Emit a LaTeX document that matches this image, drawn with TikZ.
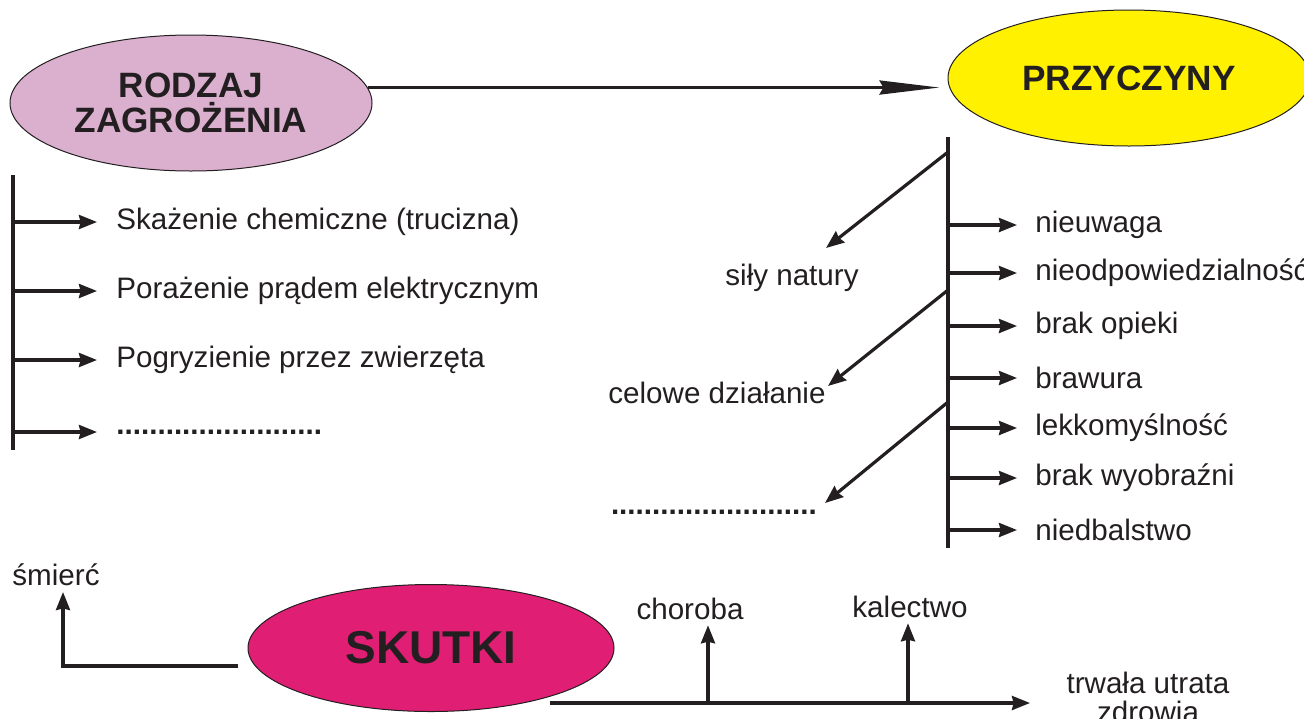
\documentclass[tikz,border=0pt]{standalone}
\usepackage{fontspec}
\setmainfont{Liberation Sans}
\usetikzlibrary{shapes.geometric, arrows.meta, positioning, calc}
\definecolor{hazardpink}{RGB}{218,176,206}
\definecolor{causeyellow}{RGB}{255,241,0}
\definecolor{effectmagenta}{RGB}{224,30,115}
\definecolor{inkblack}{RGB}{35,31,32}
\tikzstyle{arrow} = [line width=1.6pt,-{Stealth[length=9pt,width=7pt,inset=0.8pt]},inkblack]
\tikzstyle{longarrow} = [line width=1.6pt,-{Stealth[length=30pt,width=7pt,inset=2pt]},inkblack]
\tikzstyle{bar} = [line width=1.6pt,inkblack]
\tikzstyle{blob} = [ellipse, draw=inkblack, line width=0.5pt, minimum width=181pt, minimum height=68pt, inner sep=0pt, align=center, text=inkblack, font=\fontsize{17.6}{17.5}\selectfont\bfseries]
\tikzstyle{item} = [inner sep=0pt, text=inkblack, font=\fontsize{14.8}{14.5}\selectfont]
\tikzstyle{dots} = [item, font=\fontsize{14.8}{14.5}\selectfont\bfseries]

\begin{document}
\begin{tikzpicture}[x=0.5pt,y=-0.5pt]
\useasboundingbox (0,0) rectangle (1304,718);
\clip (0,0) rectangle (1304,718);

% main ellipses
\node[blob, fill=hazardpink] (rodzaj) at (191,103) {RODZAJ\\ZAGROŻENIA};
\node[blob, fill=causeyellow] (przyczyny) at (1129,78) {PRZYCZYNY};
\node[blob, fill=effectmagenta, minimum width=183pt, minimum height=63.5pt,
      font=\fontsize{23}{23}\selectfont\bfseries] (skutki) at (431,648) {SKUTKI};

\draw[longarrow] (rodzaj.5) -- ([xshift=-4pt]rodzaj.5 -| przyczyny.west);

% rodzaj zagrozenia
\coordinate (ztop) at (13,175);
\coordinate (zbot) at (13,450);
\draw[bar] (ztop) -- (zbot);
\node[item, anchor=west] (zag1) at (116,222) {Skażenie chemiczne (trucizna)};
\node[item, anchor=west] (zag2) at (116,291) {Porażenie prądem elektrycznym};
\node[item, anchor=west] (zag3) at (116,360) {Pogryzienie przez zwierzęta};
\node[dots, anchor=west] (zag4) at (116,432) {.........................};
\draw[arrow, shorten >=9.5pt] (ztop |- zag1) -- (zag1.west);
\draw[arrow, shorten >=9.5pt] (ztop |- zag2) -- (zag2.west);
\draw[arrow, shorten >=9.5pt] (ztop |- zag3) -- (zag3.west);
\draw[arrow, shorten >=9.5pt] (ztop |- zag4) -- (zag4.west);

% przyczyny
\coordinate (ptop) at (948,137);
\coordinate (pbot) at (948,548);
\draw[bar] (ptop) -- (pbot);
\node[item, anchor=west] (prz1) at (1035,225) {nieuwaga};
\node[item, anchor=west] (prz2) at (1035,273) {nieodpowiedzialność};
\node[item, anchor=west] (prz3) at (1035,326) {brak opieki};
\node[item, anchor=west] (prz4) at (1035,378) {brawura};
\node[item, anchor=west] (prz5) at (1035,428) {lekkomyślność};
\node[item, anchor=west] (prz6) at (1035,478) {brak wyobraźni};
\node[item, anchor=west] (prz7) at (1035,530) {niedbalstwo};
\foreach \i in {1,...,7}
  \draw[arrow, shorten >=9pt] (ptop |- prz\i) -- (prz\i.west);

% external causes
\node[item] (sily) at (792,278) {siły natury};
\node[item, anchor=east] (celowe) at (826,393) {celowe działanie};
\node[dots, anchor=east] (inne) at (817,512) {.........................};
\coordinate (d1a) at (948,152);  \coordinate (d1b) at (826,248);
\coordinate (d2a) at (948,290);  \coordinate (d2b) at (828,386);
\coordinate (d3a) at (948,402);  \coordinate (d3b) at (825,503);
\draw[arrow] (d1a) -- (d1b);
\draw[arrow] (d2a) -- (d2b);
\draw[arrow] (d3a) -- (d3b);

% skutki
\node[item] (smierc) at (56,575) {śmierć};
\node[item] (choroba) at (690,609) {choroba};
\node[item] (kalectwo) at (910,607) {kalectwo};
\node[item, align=center] (trwala) at (1148,697) {trwała utrata\\zdrowia};
\coordinate (skleft) at (238,666);
\coordinate (smtip) at (63,592);
\draw[arrow] (skleft) -| (smtip);
\coordinate (skright) at (550,703);
\coordinate (skend) at (1030,703);
\draw[arrow] (skright) -- (skend);
\coordinate (chfoot) at (708,703);
\coordinate (kafoot) at (908,703);
\draw[arrow, shorten >=2.5pt] (chfoot) -- (chfoot |- choroba.south);
\draw[arrow, shorten >=2.5pt] (kafoot) -- (kafoot |- kalectwo.south);
\end{tikzpicture}
\end{document}
